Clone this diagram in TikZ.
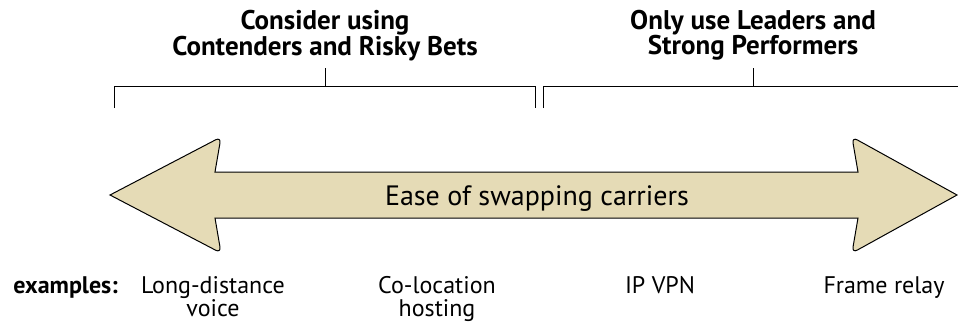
\documentclass[tikz,border=0pt]{standalone}
\usepackage{fontspec}
\setmainfont{PT Sans}
\usepackage{tikz}
\usetikzlibrary{positioning}
\definecolor{sand}{RGB}{229,219,182}

\begin{document}
\begin{tikzpicture} [x=1pt, y=-1pt, node distance=224pt,
                    pijl/.style={draw=black,fill=sand,line width=1pt,line join=miter},
                    haak/.style={draw=black,line width=0.8pt},
                    kop/.style={align=center,inner sep=0pt,anchor=north,font=\fontsize{27}{25}\selectfont\bfseries},
                    voorbeeld/.style={align=center,inner sep=0pt,anchor=north,font=\fontsize{24}{23}\selectfont}]
\useasboundingbox (0,0) rectangle (958,324);

% double arrow
\draw[pijl] (110,195) [rounded corners=6pt] -- (221,137) [sharp corners] -- (215,172) -- (858,172)
    [rounded corners=6pt] -- (852,137) [sharp corners] -- (957,195)
    [rounded corners=6pt] -- (852,253) [sharp corners] -- (858,218) -- (215,218)
    [rounded corners=6pt] -- (221,253) [sharp corners] -- cycle;
\node[inner sep=0pt, anchor=base, font=\fontsize{28}{30}\selectfont] (E) at (537,205) {Ease of swapping carriers};

% titles
\node[kop] (T1) at (325,10) {Consider using\\Contenders and Risky Bets};
\node[kop] (T2) at (753,10) {Only use Leaders and\\Strong Performers};

% brackets
\coordinate (A1) at (114,108);
\coordinate (A2) at (114,86);
\coordinate (A3) at (535,86);
\coordinate (A4) at (535,108);
\coordinate (A5) at (325,86);
\coordinate (A6) at (325,68);
\coordinate (B1) at (543,108);
\coordinate (B2) at (543,86);
\coordinate (B3) at (962,86);
\coordinate (B5) at (753,86);
\coordinate (B6) at (753,68);
\draw[haak] (A1) -- (A2) -- (A3) -- (A4);
\draw[haak] (A5) -- (A6);
\draw[haak] (B1) -- (B2) -- (B3);
\draw[haak] (B5) -- (B6);

% examples
\node[voorbeeld] (X1) at (213,276) {Long-distance\\voice};
\node[voorbeeld] (X2) at (437,276) {Co-location\\hosting};
\node[voorbeeld] (X3) at (660,276) {IP VPN};
\node[voorbeeld] (X4) at (884,276) {Frame relay};
\node[inner sep=0pt, anchor=base east, font=\fontsize{24}{23}\selectfont\bfseries] (X0) at (118,293) {examples:};
\end{tikzpicture}
\end{document}
